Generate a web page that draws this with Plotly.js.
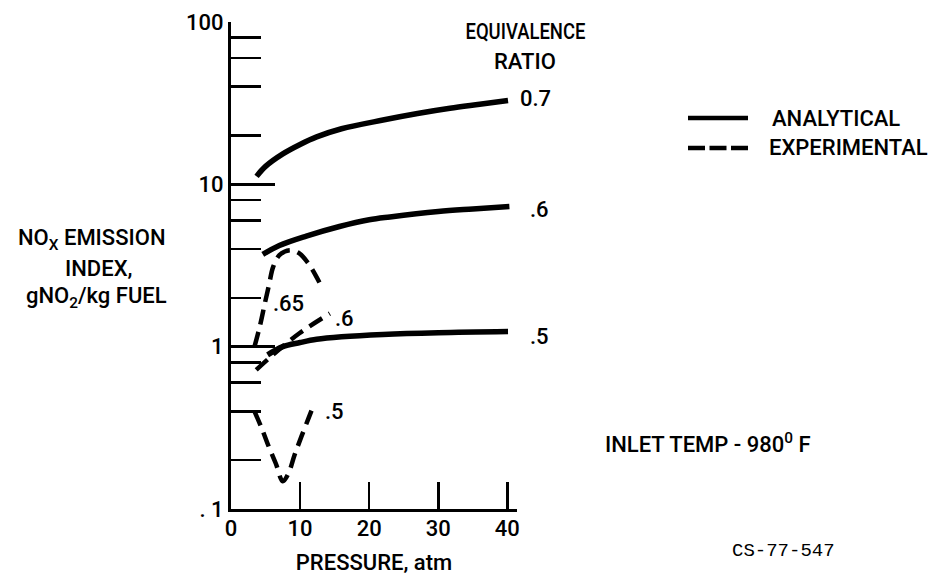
<!DOCTYPE html>
<html><head><meta charset="utf-8">
<script src="https://cdn.plot.ly/plotly-3.0.1.min.js"></script>
<style>html,body{margin:0;padding:0;background:#fff}#chart{width:936px;height:581px}</style>
</head><body><div id="chart"></div>
<script>
// Analytical curves (equivalence ratio 0.7, 0.6, 0.5)
const anaP07 = [3.7, 5, 7.5, 10, 12.4, 16, 22, 27, 31.7, 36, 40.1];
const anaN07 = [11.2, 12.9, 15.4, 17.6, 19.6, 22, 24.9, 27.3, 29.4, 31.1, 32.8];
const anaP06 = [4.6, 7, 10.9, 15.7, 20, 23, 30, 35, 40.3];
const anaN06 = [3.7, 4.2, 4.8, 5.5, 6.05, 6.3, 6.8, 7.05, 7.3];
const anaP05 = [5.3, 7.5, 10, 12.4, 16, 22, 30, 40.1];
const anaN05 = [0.89, 1.0, 1.06, 1.11, 1.15, 1.19, 1.22, 1.24];
// Experimental curves (equivalence ratio .65, .6, .5)
const expP065 = [3.4, 4.2, 4.9, 5.5, 6.1, 7.0, 8.5, 9.9, 11.2, 12.35, 13.3];
const expN065 = [1.0, 1.35, 1.85, 2.4, 3.1, 3.66, 3.93, 3.76, 3.25, 2.7, 2.25];
const expP06 = [3.65, 6.06, 9.9, 14.3];
const expN06 = [0.72, 0.89, 1.21, 1.6];
const expP05 = [3.4, 4.5, 5.5, 6.5, 7.5, 8.3, 9.2, 10.2, 11.2, 11.9];
const expN05 = [0.4, 0.31, 0.24, 0.19, 0.148, 0.165, 0.215, 0.28, 0.36, 0.43];
// Axis ticks
const xTickVals = [0, 10, 20, 30, 40];
const xTickText = ['0', '10', '20', '30', '40'];
const yTickVals = [0.1, 1, 10, 100];
const yTickText = ['. 1', '1', '10', '100'];
const yMinorVals = [0.2, 0.4, 0.6, 0.8, 2, 4, 6, 8, 20, 40, 60, 80];
// Labels
const anaLabels = ['0.7', '.6', '.5'];
const expLabels = ['.65', '.6', '.5'];

const FONT = "Roboto, 'DejaVu Sans Condensed', sans-serif";
const W = 936, H = 581, ML = 231, MR = 419, MT = 22, MB = 72;
const pw = W - ML - MR, ph = H - MT - MB;
const px = x => (x - ML) / pw;
const py = y => (H - MB - y) / ph;

const solid = {color: '#000', width: 5.5, shape: 'spline'};
const dashed = {color: '#000', width: 4.5, dash: '15px,8px', shape: 'spline'};
function tr(x, y, line) { return {x, y, mode: 'lines', line, hoverinfo: 'skip', showlegend: false}; }

const data = [
  tr(anaP07, anaN07, solid), tr(anaP06, anaN06, solid), tr(anaP05, anaN05, solid),
  tr(expP065, expN065, dashed), tr(expP06, expN06, dashed), tr(expP05, expN05, dashed)
];

function ann(text, x, y, size, xanchor, extra) {
  return Object.assign({text, x: px(x), y: py(y), xref: 'paper', yref: 'paper', showarrow: false,
    xanchor: xanchor || 'center', yanchor: 'middle',
    font: {family: FONT, size: size || 22, color: '#000', weight: 500}}, extra || {});
}

const annotations = [
  ann('EQUIVALENCE', 525, 32),
  ann('RATIO', 525, 61),
  ann(anaLabels[0], 518, 99, 22, 'left'),
  ann(anaLabels[1], 528, 209, 22, 'left'),
  ann(anaLabels[2], 528, 336, 22, 'left'),
  ann(expLabels[0], 271, 303, 22, 'left'),
  ann(expLabels[1], 333, 318, 22, 'left'),
  ann(expLabels[2], 323, 411, 22, 'left'),
  ann('ANALYTICAL', 770, 118, 22, 'left'),
  ann('EXPERIMENTAL', 767, 148, 22, 'left'),
  ann('NO<sub>X</sub> EMISSION', 92, 239, 22),
  ann('INDEX,', 98, 268, 22),
  ann('gNO<sub>2</sub>/kg FUEL', 96, 297, 22),
  ann('INLET TEMP - 980<sup>0</sup> F', 603, 443, 22, 'left'),
  ann('CS-77-547', 730, 551, 19, 'left', {font: {family: "'Liberation Mono', 'DejaVu Sans Mono', monospace", size: 19, color: '#000'}})
];

const shapes = [
  {type: 'line', xref: 'paper', yref: 'paper', x0: px(688), x1: px(748), y0: py(118), y1: py(118), line: {color: '#000', width: 4.5}},
  {type: 'line', xref: 'paper', yref: 'paper', x0: px(688), x1: px(748), y0: py(148), y1: py(148), line: {color: '#000', width: 4.5, dash: '17px,4.5px'}}
];

const tickFont = {family: FONT, size: 22, color: '#000', weight: 500};
const layout = {
  width: W, height: H,
  margin: {l: ML, r: MR, t: MT, b: MB, pad: 0},
  paper_bgcolor: '#fff', plot_bgcolor: '#fff',
  showlegend: false,
  xaxis: {
    range: [0, 41.4], tickmode: 'array', tickvals: xTickVals, ticktext: xTickText,
    ticks: 'inside', ticklen: 27, tickwidth: 2.5, tickcolor: '#000',
    showline: true, linecolor: '#000', linewidth: 3, showgrid: false, zeroline: false,
    tickfont: tickFont, ticklabelstandoff: -2,
    title: {text: 'PRESSURE, atm', font: tickFont, standoff: 15}
  },
  yaxis: {
    type: 'log', range: [-1, 2], tickmode: 'array', tickvals: yTickVals, ticktext: yTickText,
    ticks: 'inside', ticklen: 44, tickwidth: 2.5, tickcolor: '#000',
    minor: {tickmode: 'array', tickvals: yMinorVals, ticks: 'inside', ticklen: 30, tickwidth: 2.5, tickcolor: '#000', showgrid: false},
    showline: true, linecolor: '#000', linewidth: 3, showgrid: false, zeroline: false,
    tickfont: tickFont
  },
  annotations, shapes
};

Plotly.newPlot('chart', data, layout, {staticPlot: true, displayModeBar: false}).then(gd => {
  gd.querySelectorAll('.annotation-text').forEach(t => {
    if (t.textContent === 'EQUIVALENCE') {
      t.setAttribute('textLength', 120);
      t.setAttribute('lengthAdjust', 'spacingAndGlyphs');
    }
  });
});
</script>
</body></html>
